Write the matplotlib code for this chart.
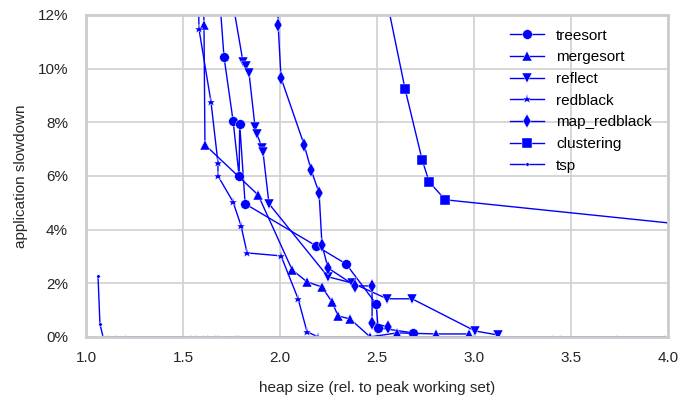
import matplotlib
matplotlib.use("Agg")
import matplotlib.pyplot as plt
from matplotlib.ticker import FuncFormatter, MultipleLocator

# heap size (relative to peak working set) and slowdown in percent, per benchmark
treesort_x = [1.68, 1.711, 1.758, 1.789, 1.792, 1.820, 2.186, 2.340, 2.495, 2.505, 2.686]
treesort_y = [13.5, 10.44, 8.05, 6.00, 7.94, 4.96, 3.39, 2.72, 1.23, 0.34, 0.15]

mergesort_x = [1.603, 1.608, 1.613, 1.887, 2.062, 2.139, 2.216, 2.268, 2.299, 2.361, 2.464,
               2.603, 2.804, 2.974]
mergesort_y = [14.0, 11.63, 7.16, 5.29, 2.50, 2.05, 1.86, 1.30, 0.78, 0.67, 0.0,
               0.15, 0.11, 0.11]

reflect_x = [1.732, 1.809, 1.825, 1.840, 1.871, 1.881, 1.907, 1.912, 1.943, 2.247, 2.371,
             2.552, 2.680, 3.005, 3.124]
reflect_y = [13.5, 10.25, 10.10, 9.84, 7.83, 7.57, 7.04, 6.90, 4.96, 2.24, 2.01,
             1.42, 1.42, 0.22, 0.07]

redblack_x = [1.578, 1.582, 1.644, 1.680, 1.680, 1.758, 1.799, 1.830, 2.005, 2.093, 2.139, 2.196]
redblack_y = [14.0, 11.48, 8.76, 6.49, 6.00, 5.03, 4.14, 3.13, 3.02, 1.42, 0.19, 0.0]

map_redblack_x = [1.988, 1.990, 2.005, 2.124, 2.160, 2.201, 2.216, 2.247, 2.387, 2.474, 2.474, 2.557]
map_redblack_y = [14.0, 11.63, 9.65, 7.16, 6.22, 5.37, 3.43, 2.57, 1.90, 1.90, 0.52, 0.37]

clustering_x = [2.562, 2.644, 2.732, 2.768, 2.851, 5.0]
clustering_y = [12.13, 9.24, 6.60, 5.78, 5.11, 3.5]

tsp_x = [1.062, 1.072, 1.088, 1.108, 1.149, 1.20, 1.50, 1.536, 1.562, 1.603, 1.624, 1.665,
         1.68, 1.768, 1.784, 3.40, 3.44, 3.73, 3.98]
tsp_y = [2.27, 0.48, 0, 0, 0, 0, 0, 0, 0, 0, 0, 0, 0, 0, 0, 0, 0, 0, 0]

series = [
    ("treesort", treesort_x, treesort_y, "o", 7),
    ("mergesort", mergesort_x, mergesort_y, "^", 7),
    ("reflect", reflect_x, reflect_y, "v", 7),
    ("redblack", redblack_x, redblack_y, "*", 6.5),
    ("map_redblack", map_redblack_x, map_redblack_y, "d", 7),
    ("clustering", clustering_x, clustering_y, "s", 7),
    ("tsp", tsp_x, tsp_y, ".", 5),
]

plt.rcParams["font.family"] = ["Liberation Sans", "DejaVu Sans"]
plt.rcParams["font.size"] = 11

fig = plt.figure(figsize=(6.99, 4.03), dpi=100)
ax = fig.add_axes([0.123, 0.164, 0.833, 0.799])

for name, xs, ys, marker, ms in series:
    ax.plot(xs, ys, color="#0000ff", lw=1.0, marker=marker, ms=ms,
            mec="white", mew=0.3, label=name)

ax.set_xlim(1.0, 4.0)
ax.set_ylim(0, 12)
ax.xaxis.set_major_locator(MultipleLocator(0.5))
ax.yaxis.set_major_locator(MultipleLocator(2))
ax.yaxis.set_major_formatter(FuncFormatter(lambda v, p: "%d%%" % v))
ax.grid(True, color="#d3d3d3", lw=1.3)
ax.set_axisbelow(True)
for sp in ax.spines.values():
    sp.set_color("#cccccc")
    sp.set_linewidth(2)
ax.tick_params(axis="y", length=0, pad=13, labelcolor="#262626")
ax.tick_params(axis="x", length=0, pad=10, labelcolor="#262626")

ax.set_xlabel("heap size (rel. to peak working set)", color="#262626", labelpad=12)
ax.set_ylabel("application slowdown", color="#262626", labelpad=7)

ax.legend(loc="upper right", frameon=False, bbox_to_anchor=(0.99, 0.99),
          labelspacing=0.5, handlelength=2.2, borderaxespad=0.3)

fig.savefig("out.png", dpi=100)
